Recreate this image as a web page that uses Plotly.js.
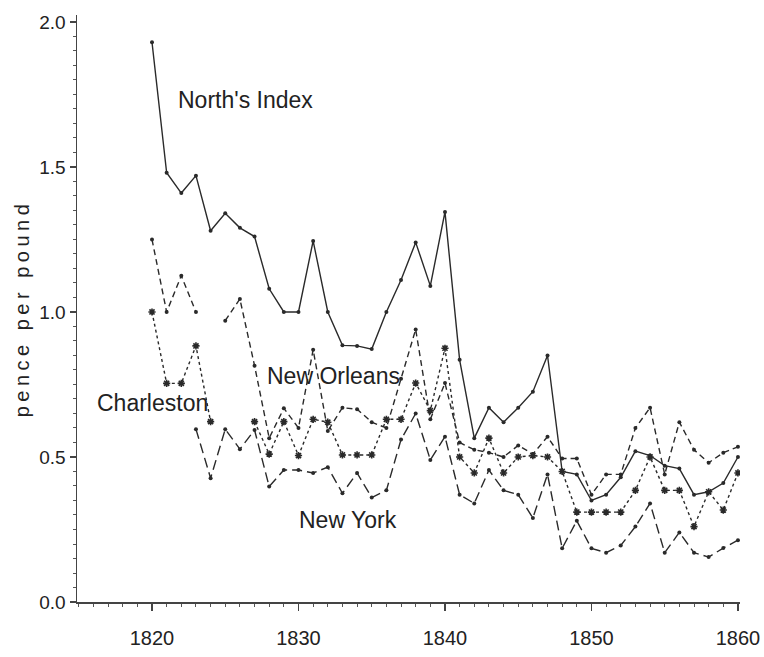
<!DOCTYPE html>
<html>
<head>
<meta charset="utf-8">
<script src="https://cdn.plot.ly/plotly-3.0.1.min.js"></script>
<style>
html,body{margin:0;padding:0;background:#fff;}
#chart{width:764px;height:657px;}
#chart .ytitle{letter-spacing:4.5px;}
</style>
</head>
<body>
<div id="chart"></div>
<script>
var years = [1820,1821,1822,1823,1824,1825,1826,1827,1828,1829,1830,1831,1832,1833,1834,1835,1836,1837,1838,1839,1840,
             1841,1842,1843,1844,1845,1846,1847,1848,1849,1850,1851,1852,1853,1854,1855,1856,1857,1858,1859,1860];

var northIndex = [1.93,1.48,1.41,1.47,1.28,1.34,1.29,1.26,1.08,1.00,1.00,1.245,1.00,0.885,0.883,0.872,1.00,1.11,1.24,1.09,1.345,
                  0.835,0.565,0.67,0.62,0.67,0.725,0.85,0.45,0.44,0.35,0.37,0.43,0.52,0.505,0.47,0.46,0.37,0.38,0.41,0.50];

var newOrleans = [1.25,1.00,1.125,1.00,null,0.97,1.045,0.815,0.565,0.668,0.60,0.87,0.59,0.67,0.665,0.62,0.60,0.77,0.94,0.63,0.755,
                  0.55,0.525,0.515,0.50,0.54,0.51,0.57,0.495,0.495,0.37,0.44,0.44,0.60,0.67,0.44,0.62,0.525,0.48,0.515,0.535];

var charleston = [1.00,0.754,0.754,0.883,0.622,null,null,0.622,0.51,0.622,0.505,0.63,0.62,0.507,0.507,0.507,0.63,0.63,0.755,0.66,0.875,
                  0.50,0.445,0.565,0.445,0.50,0.505,0.50,0.45,0.31,0.31,0.31,0.31,0.385,0.50,0.385,0.385,0.26,0.38,0.317,0.445];

var newYork = [null,null,null,0.596,0.427,0.596,0.527,0.593,0.398,0.455,0.455,0.445,0.465,0.375,0.445,0.36,0.385,0.56,0.65,0.49,0.57,
               0.37,0.34,0.455,0.385,0.37,0.29,0.44,0.185,0.28,0.185,0.17,0.195,0.26,0.34,0.17,0.24,0.17,0.155,0.186,0.213];

var seriesNames = ["North's Index","New Orleans","Charleston","New York"];
var labelX = [1826.4, 1832.4, 1820.0, 1833.4];
var labelY = [1.73, 0.78, 0.686, 0.283];

var yTickVals = [0,0.5,1.0,1.5,2.0];
var yTickText = ["0.0","0.5","1.0","1.5","2.0"];
var xTickVals = [1820,1830,1840,1850,1860];

var ink = '#2a2a2a';
var txt = '#222';
function tr(name, y, dash, sym, msize){
  return {
    x: years, y: y, name: name, type: 'scatter', mode: 'lines+markers',
    connectgaps: false,
    line: {color: ink, width: 1.4, dash: dash},
    marker: {color: ink, size: msize, symbol: sym},
    hoverinfo: 'x+y'
  };
}

var data = [
  tr(seriesNames[0], northIndex, 'solid', 'circle', 4),
  tr(seriesNames[1], newOrleans, '6px,4px', 'circle', 4),
  tr(seriesNames[2], charleston, '3px,3px', 'asterisk-open', 6),
  tr(seriesNames[3], newYork, '10px,5px', 'circle', 4)
];
data[2].marker.line = {color: ink, width: 1.6};

var annotations = seriesNames.map(function(n,i){
  return {x: labelX[i], y: labelY[i], xref:'x', yref:'y', text: n, showarrow:false,
          font:{family:'Liberation Sans, Arial, sans-serif', size:23, color:txt},
          xanchor:'center', yanchor:'middle'};
});

var layout = {
  width: 764, height: 657,
  margin: {l:77, r:24, t:15, b:55, pad:0},
  paper_bgcolor:'#fff', plot_bgcolor:'#fff',
  showlegend:false,
  font:{family:'Liberation Sans, Arial, sans-serif', color:txt},
  xaxis:{
    range:[1814.88,1860.14], showgrid:false, zeroline:false,
    showline:true, linecolor:'#444', linewidth:1.5,
    tickmode:'array', tickvals:xTickVals, ticks:'outside', ticklen:7, tickwidth:1.3, tickcolor:'#444',
    tickfont:{size:20, color:txt}, ticklabelstandoff:10,
    minor:{dtick:1, tick0:1820, ticks:'outside', ticklen:3.5, tickwidth:1, tickcolor:'#555', showgrid:false}
  },
  yaxis:{
    range:[0,2.024], showgrid:false, zeroline:false,
    showline:true, linecolor:'#444', linewidth:1.5,
    tickmode:'array', tickvals:yTickVals, ticktext:yTickText, ticks:'outside', ticklen:6, tickwidth:1.3, tickcolor:'#444',
    tickfont:{size:19, color:txt},
    minor:{dtick:0.05, tick0:0, ticks:'outside', ticklen:3, tickwidth:1, tickcolor:'#555', showgrid:false},
    title:{text:'pence per pound', font:{size:20, color:txt}, standoff:4}
  },
  annotations: annotations
};

Plotly.newPlot('chart', data, layout, {displayModeBar:false, staticPlot:true});
</script>
</body>
</html>
